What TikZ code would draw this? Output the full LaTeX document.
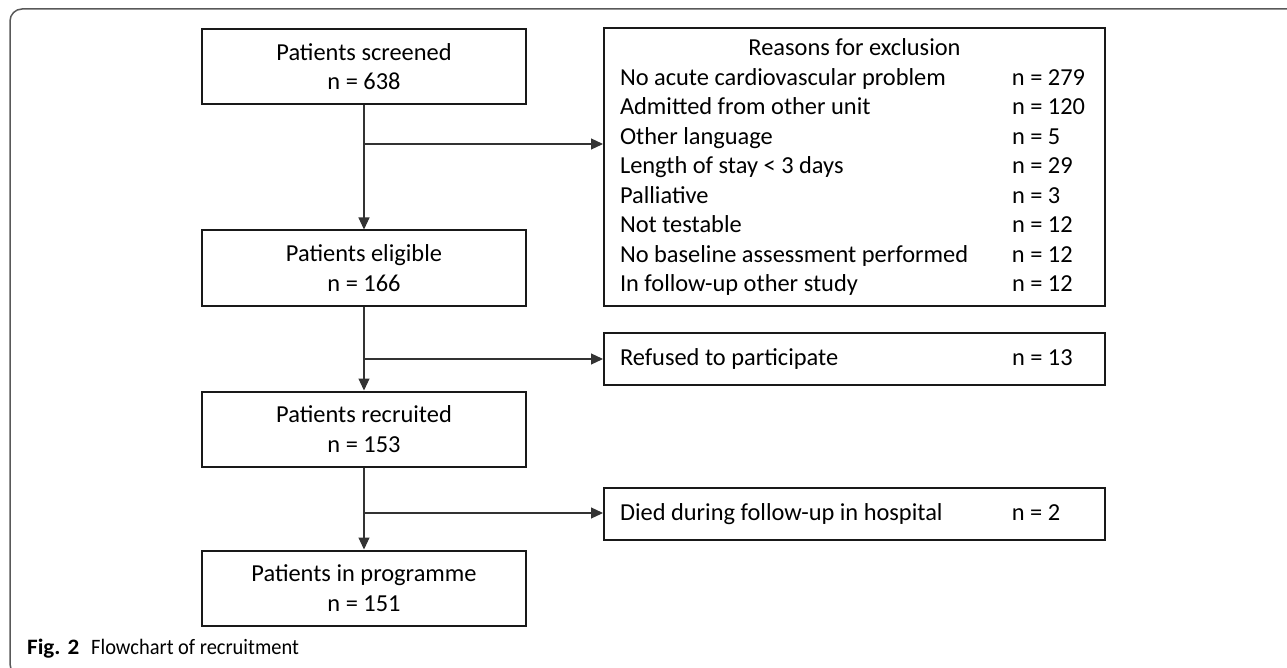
\documentclass[tikz,border=0pt]{standalone}
\usepackage{fontspec}
\setmainfont{Carlito}
\newfontfamily\capfont[FakeStretch=0.93]{Carlito}
\newfontfamily\capbold[FakeStretch=1.05]{Carlito Bold}
\usetikzlibrary{arrows.meta}

\tikzstyle{stage}=[draw=black!90, line width=2pt, minimum width=324pt, minimum height=75pt, inner sep=0pt, align=center, font=\fontsize{24.4}{29.5}\selectfont]
\tikzstyle{reason}=[draw=black!90, line width=2pt, minimum width=501pt, inner sep=0pt, align=left, font=\fontsize{24.4}{29.5}\selectfont]
\tikzstyle{arrow}=[line width=1.2pt, draw=black!80, -{Triangle[length=12pt, width=11pt]}]
\tikzstyle{frame}=[line width=1.5pt, draw=black!65, rounded corners=12pt]

\newcommand{\exclrow}[2]{\makebox[469pt][l]{\makebox[392pt][l]{#1}n = #2}}

\begin{document}
\begin{tikzpicture}[x=1pt, y=-1pt]
      \useasboundingbox (0,0) rectangle (1287,668);
      \draw[frame] (1300,9) -- (10,9) -- (10,676) -- (40,676);

      \node[stage] (screened) at (364,66.5) {Patients screened\\n = 638};
      \node[stage] (eligible) at (364,268) {Patients eligible\\n = 166};
      \node[stage] (recruited) at (364,429) {Patients recruited\\n = 153};
      \node[stage] (programme) at (364,588) {Patients in programme\\n = 151};

      \node[reason, minimum height=278pt] (exclusion) at (854.5,167) {%
        \makebox[469pt][c]{Reasons for exclusion}\\
        \exclrow{No acute cardiovascular problem}{279}\\
        \exclrow{Admitted from other unit}{120}\\
        \exclrow{Other language}{5}\\
        \exclrow{Length of stay < 3 days}{29}\\
        \exclrow{Palliative}{3}\\
        \exclrow{Not testable}{12}\\
        \exclrow{No baseline assessment performed}{12}\\
        \exclrow{In follow-up other study}{12}};
      \node[reason, minimum height=52pt] (refused) at (854.5,359) {\exclrow{Refused to participate}{13}};
      \node[reason, minimum height=52pt] (died) at (854.5,514) {\exclrow{Died during follow-up in hospital}{2}};

      \coordinate (split1) at (364,144);
      \coordinate (split2) at (364,359);
      \coordinate (split3) at (364,513);

      \draw[arrow] (screened) to (eligible);
      \draw[arrow] (eligible) to (recruited);
      \draw[arrow] (recruited) to (programme);
      \draw[arrow] (split1) to (split1 -| exclusion.west);
      \draw[arrow] (split2) to (split2 -| refused.west);
      \draw[arrow] (split3) to (split3 -| died.west);

      \node[anchor=base west, inner sep=0pt, font=\capbold\fontsize{22}{26}\selectfont] (figno) at (27,654) {Fig. 2};
      \node[anchor=base west, inner sep=0pt, font=\capfont\fontsize{22}{26}\selectfont] (figtitle) at (91,654) {Flowchart of recruitment};
    \end{tikzpicture}
\end{document}
